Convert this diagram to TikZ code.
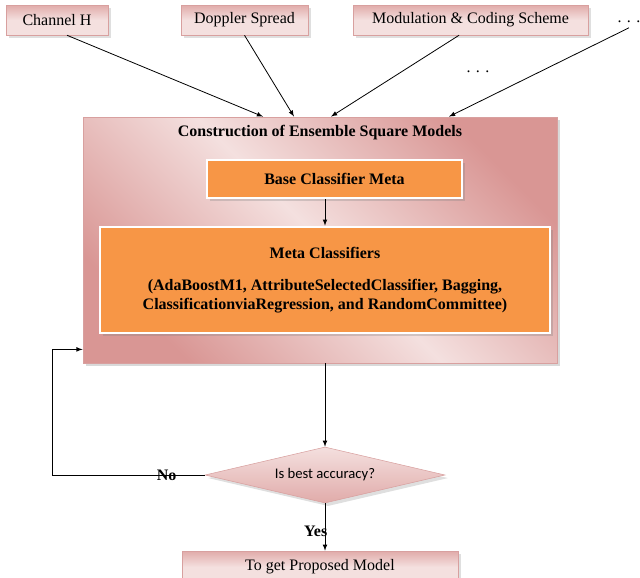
\documentclass[tikz,border=0pt]{standalone}
\usepackage{fontspec}
\setmainfont{Liberation Serif}
\newfontfamily\calibfont{Carlito}
\usepackage{tikz}
\usetikzlibrary{arrows, shapes.geometric, shadows}

\definecolor{pinkL}{HTML}{F4E0DF}
\definecolor{pinkD}{HTML}{D99694}
\definecolor{pinkE}{HTML}{D8A09F}
\definecolor{orng}{HTML}{F79646}

\begin{document}
\begin{tikzpicture}[
            >= latex, % arrow head style
            x = 0.75pt, y = -0.75pt, % one unit = one pixel of the sketch
            semithick % line style
        ]

        \tikzstyle{every node}=[font=\fontsize{12}{14}\selectfont]
        \tikzstyle{inbox}=[
            draw = pinkE,
            thin,
            top color = pinkD!80,
            bottom color = pinkL,
            middle color = pinkL,
            drop shadow = {opacity=0.25},
            minimum height = 22.5pt
        ]
        \tikzstyle{metabox}=[
            draw = white,
            line width = 2pt,
            fill = orng,
            drop shadow = {opacity=0.3},
            font = \fontsize{12}{14}\selectfont\bfseries,
            align = center
        ]
        \tikzstyle{lbl}=[font=\fontsize{12}{14}\selectfont\bfseries, inner sep=0pt]

        \useasboundingbox (0,0) rectangle (640,578);

        % inputs
        \node[inbox, minimum width=76.5pt] (chan) at (57,20) {Channel H};
        \node[inbox, minimum width=95.25pt] (dop) at (244.5,20) {Doppler Spread};
        \node[inbox, minimum width=176.25pt] (mcs) at (470.5,20) {Modulation \& Coding Scheme};
        \node (dotsR) at (629,22) {. . .};
        \node (dotsM) at (478,72) {. . .};

        % ensemble block
        \node[draw=pinkE, left color=pinkD, right color=pinkD, middle color=pinkL,
              shading angle=-45, drop shadow={opacity=0.3},
              minimum width=355.5pt, minimum height=184.5pt] (big) at (320,240) {};
        \node[lbl] (title) at (320,133) {Construction of Ensemble Square Models};
        \node[metabox, minimum width=191.25pt, minimum height=28.5pt] (base) at (334.5,179) {Base Classifier Meta};
        \node[metabox, minimum width=337.5pt, minimum height=79.5pt] (meta) at (325,280)
            {Meta Classifiers\\[10pt](AdaBoostM1, AttributeSelectedClassifier, Bagging,\\ClassificationviaRegression, and RandomCommittee)};

        % decision
        \node[diamond, draw=pinkE, thin, top color=pinkL, bottom color=pinkD!80,
              drop shadow={opacity=0.25}, inner sep=0pt, shape aspect=4.3,
              minimum width=180pt, minimum height=42pt,
              font=\calibfont\fontsize{11}{13}\selectfont] (dec) at (325,475) {Is best accuracy?};
        \node[inbox, minimum width=207pt, minimum height=24pt] (fin) at (320,567) {To get Proposed Model};

        \coordinate (loop) at (52,475);

        \draw[->] ([xshift=7.5pt]chan.south) -- ([xshift=-42.75pt]big.north);
        \draw[->] (dop.south) -- ([xshift=-19.5pt]big.north);
        \draw[->] ([xshift=-8.6pt]mcs.south) -- ([xshift=8.25pt]big.north);
        \draw[->] (dotsR.south) -- ([xshift=96.75pt]big.north);
        \draw[->] (base.south -| meta.north) -- (meta.north);
        \draw[->] (big.south -| dec.north) -- (dec.north);
        \draw[->] (dec.west) -- node[lbl, pos=0.25] {No} (loop) |- ([yshift=10.5pt]big.south west);
        \draw[->] (dec.south) -- node[lbl, pos=0.6, xshift=-7pt] {Yes} (dec.south |- fin.north);

    \end{tikzpicture}
\end{document}
